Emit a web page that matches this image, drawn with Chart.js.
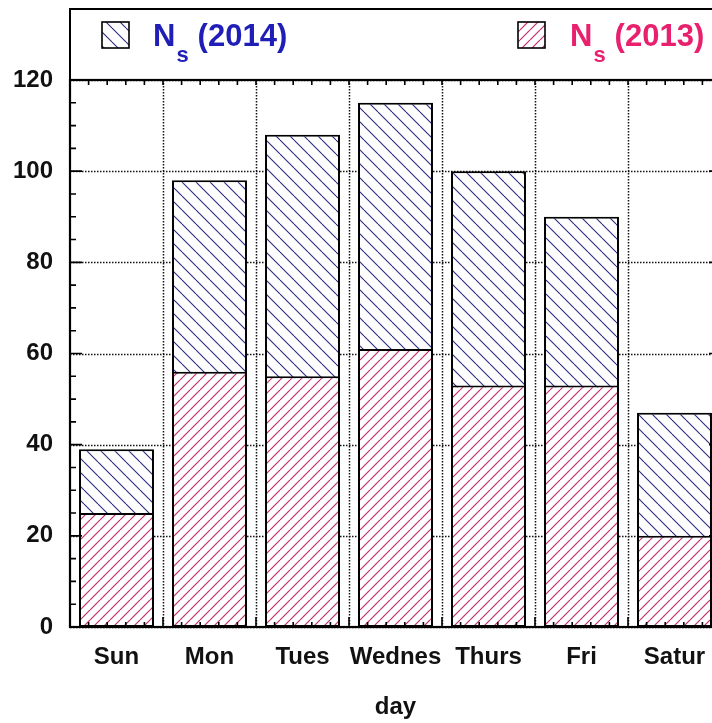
<!DOCTYPE html>
<html><head><meta charset="utf-8">
<script src="https://cdn.jsdelivr.net/npm/chart.js@4"></script>
<style>html,body{margin:0;padding:0;overflow:hidden;background:#fff}</style>
</head><body>
<canvas id="c" width="730" height="723"></canvas>
<script>
const categories = ['Sun', 'Mon', 'Tues', 'Wednes', 'Thurs', 'Fri', 'Satur'];
const ns2014 = [39, 98, 108, 115, 100, 90, 47];
const ns2013 = [25, 56, 55, 61, 53, 53, 20];
const yTickValues = [0, 20, 40, 60, 80, 100, 120];
const legendMain = ['N', 'N'];
const legendSub = ['s', 's'];
const legendYear = ['(2014)', '(2013)'];
const xTitle = 'day';

const FONT = "'Liberation Sans', Arial, sans-serif";
const BLUE_TEXT = '#1f1fb8';
const PINK_TEXT = '#e8206e';
const BLUE_HATCH = '#2a2a82';
const PINK_HATCH = '#c2306e';

const canvas = document.getElementById('c');
const ctx0 = canvas.getContext('2d');

function hatch(color, size, dir, lw) {
  const c = document.createElement('canvas');
  c.width = c.height = size;
  const g = c.getContext('2d');
  g.fillStyle = '#fff';
  g.fillRect(0, 0, size, size);
  g.strokeStyle = color;
  g.lineWidth = lw;
  for (const k of [-size, 0, size]) {
    g.beginPath();
    if (dir === 'back') { g.moveTo(k, 0); g.lineTo(k + size, size); }
    else { g.moveTo(k, size); g.lineTo(k + size, 0); }
    g.stroke();
  }
  return ctx0.createPattern(c, 'repeat');
}
const bluePat = hatch(BLUE_HATCH, 14, 'back', 1.1);
const pinkPat = hatch(PINK_HATCH, 10, 'fwd', 1.2);

const frame = {
  id: 'frame',
  beforeDatasetsDraw(chart) {
    const {ctx, chartArea: a, scales: {x, y}} = chart;
    ctx.save();
    ctx.strokeStyle = '#111';
    ctx.lineWidth = 1.5;
    ctx.setLineDash([1.5, 1.5]);
    yTickValues.forEach(v => {
      const py = Math.round(y.getPixelForValue(v)) + 0.5;
      ctx.beginPath(); ctx.moveTo(a.left, py); ctx.lineTo(a.right, py); ctx.stroke();
    });
    const cw = x.getPixelForValue(1) - x.getPixelForValue(0);
    for (let i = 1; i < categories.length; i++) {
      const px = Math.round(x.getPixelForValue(i) - cw / 2) + 0.5;
      ctx.beginPath(); ctx.moveTo(px, a.top); ctx.lineTo(px, a.bottom); ctx.stroke();
    }
    ctx.restore();
  },
  afterDatasetsDraw(chart) {
    const {ctx, chartArea: a, scales: {x, y}} = chart;
    ctx.save();
    ctx.strokeStyle = '#000';
    ctx.setLineDash([]);
    ctx.lineWidth = 1.6;
    for (let v = 0; v <= 120; v += 5) {
      const py = y.getPixelForValue(v);
      const len = v % 20 === 0 ? 12 : 6;
      ctx.beginPath();
      ctx.moveTo(a.left, py); ctx.lineTo(a.left + len, py);
      ctx.moveTo(a.right, py); ctx.lineTo(a.right - len, py);
      ctx.stroke();
    }
    const cw = x.getPixelForValue(1) - x.getPixelForValue(0);
    const n = categories.length * 5;
    for (let k = 1; k < n; k++) {
      const px = a.left + k * cw / 5;
      const major = k % 5 === 0;
      ctx.beginPath();
      ctx.moveTo(px, a.bottom); ctx.lineTo(px, a.bottom - (major ? 10 : 5));
      ctx.moveTo(px, a.top); ctx.lineTo(px, a.top + 5);
      ctx.stroke();
    }
    ctx.lineWidth = 2.2;
    ctx.strokeRect(a.left, a.top, a.right - a.left, a.bottom - a.top);
    ctx.lineWidth = 2;
    ctx.strokeRect(a.left, 9, 800, a.top - 9);
    const items = [
      {ix: 102, pat: bluePat, col: BLUE_TEXT, nx: 153, i: 0},
      {ix: 518, pat: pinkPat, col: PINK_TEXT, nx: 570, i: 1}
    ];
    items.forEach(it => {
      ctx.fillStyle = it.pat;
      ctx.fillRect(it.ix, 22, 27, 26);
      ctx.lineWidth = 1.6;
      ctx.strokeStyle = '#000';
      ctx.strokeRect(it.ix, 22, 27, 26);
      ctx.fillStyle = it.col;
      ctx.textBaseline = 'alphabetic';
      ctx.textAlign = 'left';
      ctx.font = 'bold 31px ' + FONT;
      ctx.fillText(legendMain[it.i], it.nx, 46);
      const sx = it.nx + ctx.measureText(legendMain[it.i]).width + 1;
      ctx.font = 'bold 22px ' + FONT;
      ctx.fillText(legendSub[it.i], sx, 62);
      const yx = sx + ctx.measureText(legendSub[it.i]).width + 9;
      ctx.font = 'bold 31px ' + FONT;
      ctx.fillText(legendYear[it.i], yx, 46);
    });
    ctx.restore();
  }
};

new Chart(canvas, {
  type: 'bar',
  data: {
    labels: categories,
    datasets: [
      {label: 'Ns (2013)', data: ns2013, backgroundColor: pinkPat, borderColor: '#000',
       borderWidth: 2, borderSkipped: false, grouped: false,
       categoryPercentage: 1, barPercentage: 0.806},
      {label: 'Ns (2014)', data: ns2014, backgroundColor: bluePat, borderColor: '#000',
       borderWidth: 2, borderSkipped: false, grouped: false,
       categoryPercentage: 1, barPercentage: 0.806}
    ]
  },
  options: {
    responsive: false,
    animation: false,
    events: [],
    layout: {padding: {top: 80, right: 9, left: 0, bottom: 0}},
    plugins: {legend: {display: false}, tooltip: {enabled: false}},
    scales: {
      x: {
        grid: {display: false, drawTicks: false},
        border: {display: false},
        ticks: {font: {family: FONT, size: 24, weight: 'bold'}, color: '#111', padding: 16, maxRotation: 0, autoSkip: false},
        title: {display: true, text: xTitle, font: {family: FONT, size: 24, weight: 'bold'}, color: '#111', padding: {top: 1, bottom: 1}},
        afterFit: s => { s.height = 96; }
      },
      y: {
        min: 0, max: 120,
        grid: {display: false, drawTicks: false},
        border: {display: false},
        ticks: {stepSize: 20, font: {family: FONT, size: 24, weight: 'bold'}, color: '#111', padding: 17},
        afterFit: s => { s.width = 70; }
      }
    }
  },
  plugins: [frame]
});
</script>
</body></html>
